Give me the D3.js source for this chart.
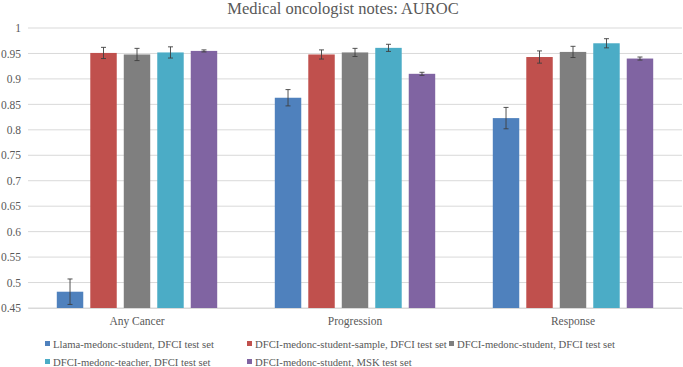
<!DOCTYPE html>
<html>
<head>
<meta charset="utf-8">
<script src="https://cdn.jsdelivr.net/npm/d3@7"></script>
<style>
  body { margin: 0; background: #fff; }
  text { font-family: "Liberation Serif", "DejaVu Serif", serif; fill: #595959; }
</style>
</head>
<body>
<div id="chart"></div>
<script>
// chart size matches the window
const svgWidth = 683;
const svgHeight = 367;
const margin = { top: 28, right: 1, bottom: 59, left: 28 };
const width = svgWidth - margin.left - margin.right;
const height = svgHeight - margin.top - margin.bottom;

// data
const categories = ["Any Cancer", "Progression", "Response"];
const seriesNames = [
  "Llama-medonc-student, DFCI test set",
  "DFCI-medonc-student-sample, DFCI test set",
  "DFCI-medonc-student, DFCI test set",
  "DFCI-medonc-teacher, DFCI test set",
  "DFCI-medonc-student, MSK test set"
];
const seriesColors = ["#4f81bd", "#c0504d", "#7f7f7f", "#4bacc6", "#8064a2"];
// one array per series, in category order
const llamaValues = [0.482, 0.863, 0.823];
const sampleValues = [0.951, 0.948, 0.943];
const studentValues = [0.948, 0.952, 0.953];
const teacherValues = [0.952, 0.961, 0.970];
const mskValues = [0.955, 0.910, 0.940];
// error bar half widths
const llamaErr = [0.025, 0.016, 0.021];
const sampleErr = [0.011, 0.009, 0.012];
const studentErr = [0.012, 0.008, 0.011];
const teacherErr = [0.011, 0.007, 0.009];
const mskErr = [0.002, 0.003, 0.003];
const yTicks = [0.45, 0.5, 0.55, 0.6, 0.65, 0.7, 0.75, 0.8, 0.85, 0.9, 0.95, 1];

const allValues = [llamaValues, sampleValues, studentValues, teacherValues, mskValues];
const allErr = [llamaErr, sampleErr, studentErr, teacherErr, mskErr];

const svg = d3.select("#chart")
  .append("svg")
  .attr("width", svgWidth)
  .attr("height", svgHeight);

const g = svg.append("g")
  .attr("transform", `translate(${margin.left},${margin.top})`);

const y = d3.scaleLinear()
  .domain([0.45, 1])
  .range([height, 0]);

const x0 = d3.scaleBand()
  .domain(categories)
  .range([0, width]);

const x1 = d3.scaleBand()
  .domain(d3.range(seriesNames.length))
  .range([0, x0.bandwidth()])
  .paddingInner(0.21)
  .paddingOuter(0.86);

// gridlines
g.selectAll(".grid")
  .data(yTicks)
  .enter()
  .append("line")
  .attr("x1", 0)
  .attr("x2", width)
  .attr("y1", d => y(d))
  .attr("y2", d => y(d))
  .attr("stroke", "#d9d9d9")
  .attr("stroke-width", 1);

// y axis labels
const yAxis = g.append("g")
  .call(d3.axisLeft(y).tickValues(yTicks).tickSize(0).tickPadding(7).tickFormat(d => d3.format("")(+d.toFixed(2))));
yAxis.select(".domain").remove();
yAxis.selectAll("text")
  .style("font-family", '"Liberation Serif", serif')
  .style("font-size", "11.5px")
  .attr("fill", "#595959");

// x axis labels
const xAxis = g.append("g")
  .attr("transform", `translate(0,${height})`)
  .call(d3.axisBottom(x0).tickSize(0).tickPadding(9));
xAxis.select(".domain").attr("stroke", "#d9d9d9");
xAxis.selectAll("text")
  .style("font-family", '"Liberation Serif", serif')
  .style("font-size", "11.5px")
  .attr("fill", "#595959");

// flatten for bars
const barData = [];
categories.forEach((c, ci) => {
  seriesNames.forEach((s, si) => {
    barData.push({ cat: c, s: si, v: allValues[si][ci], e: allErr[si][ci] });
  });
});

const bars = g.selectAll(".bar")
  .data(barData)
  .enter()
  .append("g");

bars.append("rect")
  .attr("x", d => x0(d.cat) + x1(d.s))
  .attr("y", d => y(d.v))
  .attr("width", x1.bandwidth())
  .attr("height", d => height - y(d.v))
  .attr("fill", d => seriesColors[d.s]);

// error bars
const cx = d => x0(d.cat) + x1(d.s) + x1.bandwidth() / 2;
bars.append("line")
  .attr("x1", cx).attr("x2", cx)
  .attr("y1", d => y(d.v + d.e))
  .attr("y2", d => y(d.v - d.e))
  .attr("stroke", "#404040")
  .attr("stroke-width", 0.9);
bars.append("line")
  .attr("x1", d => cx(d) - 2.5).attr("x2", d => cx(d) + 2.5)
  .attr("y1", d => y(d.v + d.e)).attr("y2", d => y(d.v + d.e))
  .attr("stroke", "#404040")
  .attr("stroke-width", 0.9);
bars.append("line")
  .attr("x1", d => cx(d) - 2.5).attr("x2", d => cx(d) + 2.5)
  .attr("y1", d => y(d.v - d.e)).attr("y2", d => y(d.v - d.e))
  .attr("stroke", "#404040")
  .attr("stroke-width", 0.9);

// title
svg.append("text")
  .text("Medical oncologist notes: AUROC")
  .attr("x", 343)
  .attr("y", 14)
  .attr("text-anchor", "middle")
  .style("font-size", "16.5px");

// legend, laid out like excel does it
const legendPos = [[45, 344], [247, 344], [449, 344], [45, 362], [247, 362]];
const legend = svg.selectAll(".legend")
  .data(seriesNames)
  .enter()
  .append("g")
  .attr("transform", (d, i) => `translate(${legendPos[i][0]},${legendPos[i][1]})`);

legend.append("rect")
  .attr("x", 0)
  .attr("y", -3)
  .attr("width", 5)
  .attr("height", 5)
  .attr("fill", (d, i) => seriesColors[i]);

legend.append("text")
  .text(d => d)
  .attr("x", 8)
  .attr("y", 3.5)
  .style("font-size", "10.7px");
</script>
</body>
</html>
